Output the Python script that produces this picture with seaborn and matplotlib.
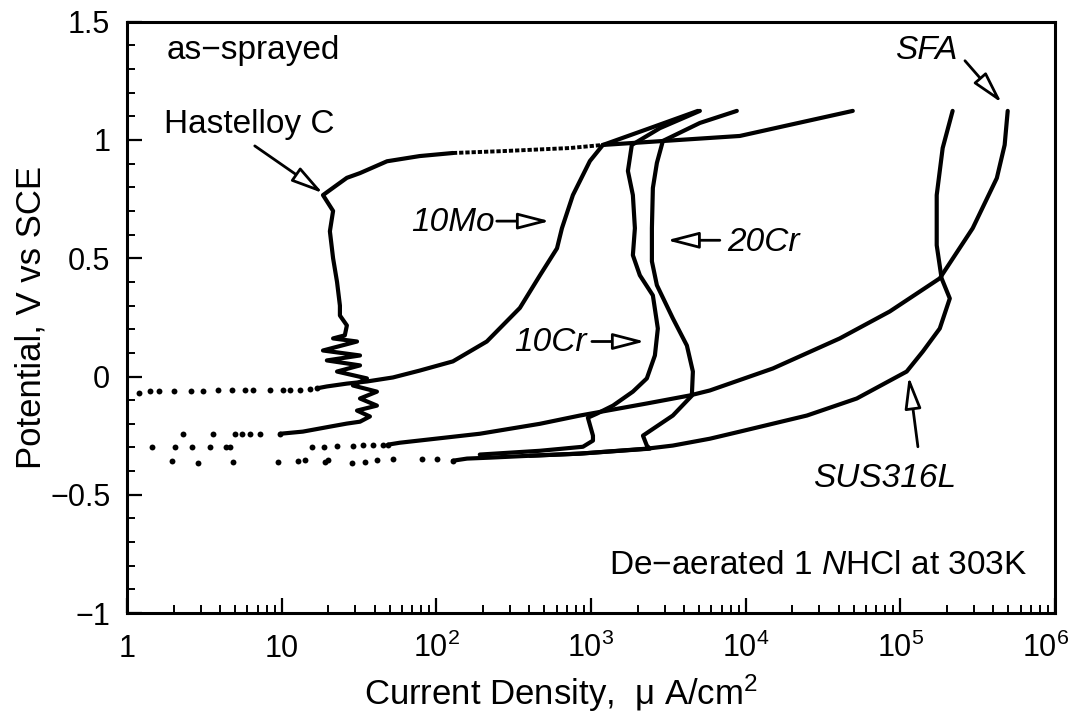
import seaborn as sns
import matplotlib.pyplot as plt
from matplotlib import font_manager
from matplotlib.transforms import ScaledTranslation
from matplotlib.ticker import LogLocator, MultipleLocator, NullFormatter

# current density (uA/cm2) and potential (V vs SCE)
hast_dot_i = [2.3, 3.6, 5.0, 5.5, 6.2, 7.2, 9.8]
hast_dot_e = [-0.245, -0.242, -0.243, -0.242, -0.242, -0.243, -0.242]
hast_i = [9.8, 13.7, 20.5, 26.4, 32.1, 37.2, 30.7, 41.3, 32.1, 41.3, 28.9, 35.6, 22.8, 32.1,
          19.6, 32.1, 18.5, 30.7, 21.5, 25.6, 26.4, 23.8, 23.8, 22.8, 21.5, 20.5, 21.5, 18.5,
          22.8, 26.4, 32.1, 48, 78, 128]
hast_e = [-0.242, -0.233, -0.212, -0.199, -0.191, -0.169, -0.144, -0.123, -0.093, -0.064,
          -0.038, -0.008, 0.021, 0.047, 0.068, 0.089, 0.110, 0.148, 0.161, 0.174, 0.216, 0.258,
          0.30, 0.40, 0.50, 0.614, 0.70, 0.767, 0.81, 0.84, 0.86, 0.91, 0.932, 0.945]
hast_pas_i = [128, 269, 731, 1190]
hast_pas_e = [0.945, 0.953, 0.966, 0.979]
hast_tp_i = [1190, 9170, 24900, 49300]
hast_tp_e = [0.979, 1.017, 1.08, 1.123]

mo10_dot_i = [1.2, 1.4, 1.6, 2.0, 2.6, 3.1, 3.9, 4.8, 5.8, 6.5, 8.4, 10.2, 11.3, 13.1, 15.2, 16.9]
mo10_dot_e = [-0.068, -0.062, -0.060, -0.060, -0.060, -0.060, -0.059, -0.059, -0.057, -0.057,
              -0.058, -0.057, -0.056, -0.055, -0.052, -0.050]
mo10_i = [16.9, 19.6, 26.4, 35.6, 52.4, 78, 128, 212, 347, 468, 603, 649, 764, 984, 1194, 2404, 4910]
mo10_e = [-0.050, -0.042, -0.030, -0.021, -0.004, 0.025, 0.064, 0.148, 0.29, 0.428, 0.542,
          0.627, 0.767, 0.911, 0.979, 1.05, 1.123]

sfa_dot_i = [1.45, 2.04, 2.63, 3.44, 4.36, 4.63, 15.7, 18.8, 22.8, 28.9, 33.5, 38.9, 45.2, 48.7]
sfa_dot_e = [-0.30, -0.30, -0.297, -0.30, -0.297, -0.30, -0.297, -0.297, -0.293, -0.293,
             -0.29, -0.29, -0.288, -0.288]
sfa_i = [48.7, 58, 191, 467, 848, 2297, 4360, 5870, 15000, 40600, 85500, 180000, 294000,
         421000, 473000, 495000]
sfa_e = [-0.288, -0.28, -0.242, -0.20, -0.165, -0.114, -0.08, -0.059, 0.034, 0.161, 0.275,
         0.415, 0.627, 0.839, 0.979, 1.123]

sus_dot_i = [1.95, 2.88, 4.84, 9.47, 12.7, 14.2, 19.0, 19.9, 28.5, 34.5, 41.3, 52.4, 80.7, 101, 128]
sus_dot_e = [-0.356, -0.364, -0.36, -0.36, -0.356, -0.352, -0.36, -0.352, -0.364, -0.36,
             -0.352, -0.348, -0.348, -0.348, -0.356]
sus_i = [128, 158, 222, 403, 848, 2300, 3380, 5870, 9170, 24900, 52300, 110000, 140000,
         180000, 209000, 185000, 172000, 172000, 188000, 218000]
sus_e = [-0.356, -0.347, -0.343, -0.335, -0.326, -0.305, -0.292, -0.263, -0.233, -0.165,
         -0.093, 0.021, 0.106, 0.203, 0.33, 0.415, 0.555, 0.767, 0.966, 1.123]

cr10_i = [191, 468, 887, 1030, 1030, 955, 1092, 1388, 1866, 2297, 2590, 2706, 2513, 2070,
          1866, 1923, 1866, 1733, 1837, 2790, 5060]
cr10_e = [-0.33, -0.314, -0.297, -0.271, -0.25, -0.174, -0.157, -0.123, -0.064, -0.008,
          0.089, 0.203, 0.343, 0.428, 0.513, 0.627, 0.767, 0.869, 0.979, 1.05, 1.123]

cr20_i = [403, 848, 2404, 2297, 2168, 3383, 4490, 4560, 4170, 3383, 2668, 2477, 2477, 2513,
          2668, 2917, 5060, 8770]
cr20_e = [-0.335, -0.326, -0.305, -0.292, -0.25, -0.165, -0.081, 0.021, 0.131, 0.246, 0.386,
          0.487, 0.627, 0.797, 0.903, 0.996, 1.072, 1.123]

y_ticks = [-1, -0.5, 0, 0.5, 1, 1.5]
y_tick_labels = ['\u22121', '\u22120.5', '0', '0.5', '1', '1.5']
x_ticks = [1, 10, 100, 1e3, 1e4, 1e5, 1e6]
x_tick_labels = ['1', '10', '10$^2$', '10$^3$', '10$^4$', '10$^5$', '10$^6$']

sns.set_theme(style='ticks')
plt.rcParams['font.family'] = ['Liberation Sans', 'DejaVu Sans']
plt.rcParams['text.color'] = 'black'
plt.rcParams['axes.labelcolor'] = 'black'
installed = {f.name for f in font_manager.fontManager.ttflist}
narrow = 'Liberation Sans Narrow' in installed
tick_font = 'Liberation Sans Narrow' if narrow else 'Liberation Sans'
plt.rcParams['mathtext.fontset'] = 'custom'
plt.rcParams['mathtext.rm'] = tick_font
plt.rcParams['mathtext.it'] = 'Liberation Sans:italic'

fig = plt.figure(figsize=(10.71, 7.17), dpi=100)
ax = fig.add_axes([0.1186, 0.145, 0.8664, 0.8247])
ax.set_xscale('log')

for xi, ye in [(hast_i, hast_e), (hast_tp_i, hast_tp_e), (mo10_i, mo10_e), (sfa_i, sfa_e),
               (sus_i, sus_e), (cr10_i, cr10_e), (cr20_i, cr20_e)]:
    sns.lineplot(x=xi, y=ye, sort=False, estimator=None, color='black', lw=3.0, ax=ax)
sns.lineplot(x=hast_pas_i, y=hast_pas_e, sort=False, estimator=None, color='black', lw=2.8,
             linestyle=(0, (1.1, 0.5)), ax=ax)

for xi, ye in [(hast_dot_i, hast_dot_e), (mo10_dot_i, mo10_dot_e), (sfa_dot_i, sfa_dot_e),
               (sus_dot_i, sus_dot_e)]:
    sns.scatterplot(x=xi, y=ye, color='black', s=18, linewidth=0, ax=ax)

ax.set_xlim(1, 1e6)
ax.set_ylim(-1, 1.5)

ax.set_xticks(x_ticks, labels=x_tick_labels)
ax.xaxis.set_minor_locator(LogLocator(base=10, subs=range(2, 10)))
ax.xaxis.set_minor_formatter(NullFormatter())
ax.set_yticks(y_ticks, labels=y_tick_labels)
ax.yaxis.set_minor_locator(MultipleLocator(0.1))

tick_size = 25 if narrow else 22
ax.tick_params(which='both', direction='in', top=False, right=False, colors='black')
ax.tick_params(which='major', length=11, width=1.6, labelsize=tick_size)
ax.tick_params(which='minor', length=6, width=1.4)
ax.tick_params(axis='x', which='major', pad=32)
ax.tick_params(axis='y', which='major', pad=12)
for lab in ax.get_xticklabels() + ax.get_yticklabels():
    lab.set_fontfamily(tick_font)
for lab in ax.get_xticklabels():
    lab.set_verticalalignment('baseline')
last = ax.get_xticklabels()[-1]
last.set_horizontalalignment('right')
last.set_transform(last.get_transform() + ScaledTranslation(0.14, 0, fig.dpi_scale_trans))
for sp in ax.spines.values():
    sp.set_linewidth(2.2)
    sp.set_color('black')

ax.set_xlabel('Current Density,  \u03bc A/cm$^2$', fontsize=25)
ax.set_ylabel('Potential, V vs SCE', fontsize=25)
ax.xaxis.set_label_coords(0.468, -0.1)
ax.yaxis.set_label_coords(-0.086, 0.5)

arrow = dict(arrowstyle='-|>,head_length=0.97,head_width=0.25', fc='white', ec='black',
             lw=2, mutation_scale=20, shrinkA=0, shrinkB=0)
ax.text(1.81, 1.377, 'as\u2212sprayed', fontsize=24, ha='left', va='center')
ax.text(6.15, 1.064, 'Hastelloy C', fontsize=24, ha='center', va='center')
ax.annotate('', xy=(18.5, 0.775), xytext=(6.7, 0.975), arrowprops=arrow)
ax.text(239, 0.65, '10Mo', fontsize=24, style='italic', ha='right', va='center')
ax.annotate('', xy=(542, 0.657), xytext=(246, 0.657), arrowprops=arrow)
ax.text(7560, 0.566, '20Cr', fontsize=24, style='italic', ha='left', va='center')
ax.annotate('', xy=(3097, 0.576), xytext=(6810, 0.576), arrowprops=arrow)
ax.text(940, 0.142, '10Cr', fontsize=24, style='italic', ha='right', va='center')
ax.annotate('', xy=(2230, 0.148), xytext=(1014, 0.148), arrowprops=arrow)
ax.text(235000, 1.378, 'SFA', fontsize=24, style='italic', ha='right', va='center')
ax.annotate('', xy=(453000, 1.157), xytext=(262000, 1.335), arrowprops=arrow)
ax.text(79400, -0.43, 'SUS316L', fontsize=24, style='italic', ha='center', va='center')
ax.annotate('', xy=(113500, 0.0), xytext=(130000, -0.297), arrowprops=arrow)
ax.text(658000, -0.798, 'De\u2212aerated 1 $\\mathit{N}$HCl at 303K', fontsize=24,
        ha='right', va='center')

plt.savefig('out.png', dpi=100)
